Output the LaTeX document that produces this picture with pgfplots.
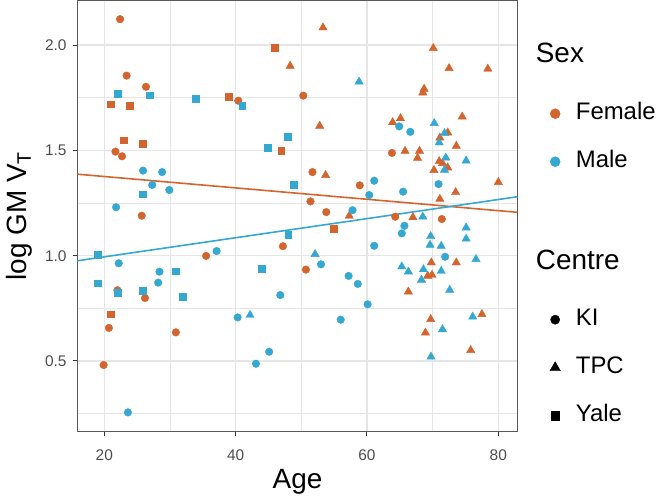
\documentclass[border=0pt]{standalone}
\usepackage{pgfplots}
\pgfplotsset{compat=1.18}
\usepackage{fontspec}
\setmainfont{Liberation Sans}
\definecolor{fem}{RGB}{212,100,46}
\definecolor{mal}{RGB}{53,168,210}
\definecolor{tickgray}{RGB}{77,77,77}
\definecolor{gridgray}{RGB}{230,230,230}
\begin{document}
\begin{tikzpicture}
\path[use as bounding box] (-77.5bp,-67bp) rectangle (579.5bp,431bp);
\begin{axis}[
  scale only axis, width=440bp, height=430bp,
  xmin=15.92, xmax=82.92, ymin=0.1676, ymax=2.2094,
  xtick={20,40,60,80}, ytick={0.5,1.0,1.5,2.0},
  minor xtick={30,50,70}, minor ytick={0.25,0.75,1.25,1.75},
  yticklabel style={/pgf/number format/fixed, /pgf/number format/fixed zerofill, /pgf/number format/precision=1},
  /pgf/number format/assume math mode=true,
  grid=both,
  major grid style={gridgray, line width=1.2bp},
  minor grid style={gridgray, line width=0.8bp},
  tick align=outside, xtick pos=bottom, ytick pos=left,
  major tick length=4.5bp, minor tick length=0pt,
  tick style={black!80, line width=1bp},
  axis line style={black!65, line width=1bp},
  ticklabel style={font=\fontsize{15.5}{18}\selectfont, text=tickgray},
  xticklabel style={yshift=-11bp},
  yticklabel style={xshift=-3bp},
  xlabel={Age}, ylabel={log GM V\textsubscript{T}},
  label style={font=\fontsize{28}{32}\selectfont},
  xlabel style={at={(axis description cs:0.5,-0.1326)}, anchor=base},
  ylabel style={at={(axis description cs:-0.117,0.5)}, anchor=base, rotate=0},
  legend cell align=left,
  legend style={draw=none, fill=none, at={(1,1)}, anchor=north west,
    xshift=29bp, yshift=-44bp, inner sep=0pt, row sep=25bp, column sep=15.5bp,
    font=\fontsize{24}{28}\selectfont,
    nodes={inner sep=0pt, text height=17bp, text depth=6bp}},
  clip=true,
]
% legend
\addlegendimage{empty legend}
\addlegendentry[text depth=15bp]{\hspace*{-40bp}\fontsize{28}{32}\selectfont Sex}
\addlegendimage{only marks, mark=*, mark size=5bp, color=fem}
\addlegendentry{Female}
\addlegendimage{only marks, mark=*, mark size=5bp, color=mal}
\addlegendentry{Male}
\addlegendimage{empty legend}
\addlegendentry[text depth=12bp]{}
\addlegendimage{empty legend}
\addlegendentry[text depth=14bp]{\hspace*{-40bp}\fontsize{28}{32}\selectfont Centre}
\addlegendimage{only marks, mark=*, mark size=4.6bp, color=black}
\addlegendentry{KI}
\addlegendimage{only marks, mark=triangle*, mark size=6bp, color=black}
\addlegendentry{TPC}
\addlegendimage{only marks, mark=square*, mark size=4.2bp, color=black}
\addlegendentry{Yale}

% Female KI
\addplot[only marks, mark=*, mark size=3.8bp, color=fem, forget plot] coordinates {
(22.4,2.123) (23.4,1.855) (26.35,1.802) (40.4,1.736) (21.7,1.494) (22.7,1.472)
(25.7,1.190) (35.5,0.999) (22.0,0.836) (26.2,0.799) (20.7,0.657) (30.9,0.636)
(19.9,0.481) (50.3,1.760) (63.8,1.488) (51.7,1.397) (58.9,1.334) (51.4,1.258)
(53.8,1.207) (64.3,1.185) (47.2,1.045) (50.7,0.934) (71.4,1.174)
};
% Female TPC
\addplot[only marks, mark=triangle*, mark size=4.8bp, color=fem, forget plot] coordinates {
(53.3,2.083) (48.3,1.901) (52.8,1.616) (63.9,1.633) (65.1,1.652) (65.8,1.497)
(53.7,1.382) (57.3,1.189) (67.0,1.182) (66.3,0.829) (70.1,1.985) (72.5,1.890)
(78.4,1.887) (68.7,1.792) (68.5,1.774) (74.5,1.660) (72.3,1.584) (71.1,1.560)
(73.6,1.521) (68.0,1.497) (67.7,1.464) (71.0,1.448) (71.5,1.439) (70.2,1.406)
(72.3,1.418) (80.0,1.349) (73.5,1.301) (71.1,1.269) (69.8,0.967) (73.6,0.967)
(69.25,0.904) (69.9,0.908) (69.7,0.698) (68.9,0.634) (77.5,0.722) (75.8,0.551)
};
% Female Yale
\addplot[only marks, mark=square*, mark size=3.4bp, color=fem, forget plot] coordinates {
(21.0,1.719) (23.9,1.711) (38.9,1.755) (22.9,1.548) (25.9,1.532) (21.0,0.722)
(45.9,1.988) (46.95,1.497) (54.9,1.130)
};
% Male KI
\addplot[only marks, mark=*, mark size=3.8bp, color=mal, forget plot] coordinates {
(25.9,1.404) (28.8,1.397) (27.3,1.336) (29.9,1.312) (21.8,1.230) (22.2,0.964)
(37.1,1.022) (28.4,0.924) (28.2,0.872) (40.3,0.707) (43.1,0.487) (23.6,0.256)
(64.9,1.614) (66.6,1.588) (61.1,1.356) (60.35,1.288) (65.5,1.304) (57.8,1.216)
(65.7,1.142) (65.3,1.106) (61.1,1.047) (53.0,0.959) (57.2,0.904) (58.6,0.866)
(46.8,0.813) (60.1,0.769) (56.0,0.696) (45.1,0.544) (70.9,1.340) (71.9,0.995)
};
% Male TPC
\addplot[only marks, mark=triangle*, mark size=4.8bp, color=mal, forget plot] coordinates {
(42.2,0.718) (58.8,1.826) (68.5,1.185) (52.1,1.007) (65.3,0.948) (66.3,0.924)
(70.25,1.629) (71.8,1.581) (71.0,1.537) (72.0,1.465) (75.1,1.451) (71.8,1.407)
(75.1,1.133) (69.7,1.092) (75.1,1.080) (69.6,1.051) (71.3,1.046) (76.6,0.983)
(68.6,0.935) (71.3,0.927) (68.3,0.885) (72.6,0.837) (71.5,0.650) (76.1,0.710)
(69.75,0.520)
};
% Male Yale
\addplot[only marks, mark=square*, mark size=3.4bp, color=mal, forget plot] coordinates {
(22.0,1.768) (26.9,1.762) (33.9,1.744) (41.0,1.714) (25.9,1.292) (19.0,1.003)
(19.0,0.869) (30.9,0.926) (22.0,0.824) (25.9,0.834) (32.0,0.804) (47.9,1.564)
(44.9,1.513) (48.9,1.337) (48.0,1.100) (44.0,0.937)
};
% regression lines
\addplot[fem, line width=1.6bp, no marks, forget plot] coordinates {(15.92,1.387) (82.92,1.206)};
\addplot[mal, line width=1.6bp, no marks, forget plot] coordinates {(15.92,0.976) (82.92,1.280)};
\end{axis}
\end{tikzpicture}
\end{document}
